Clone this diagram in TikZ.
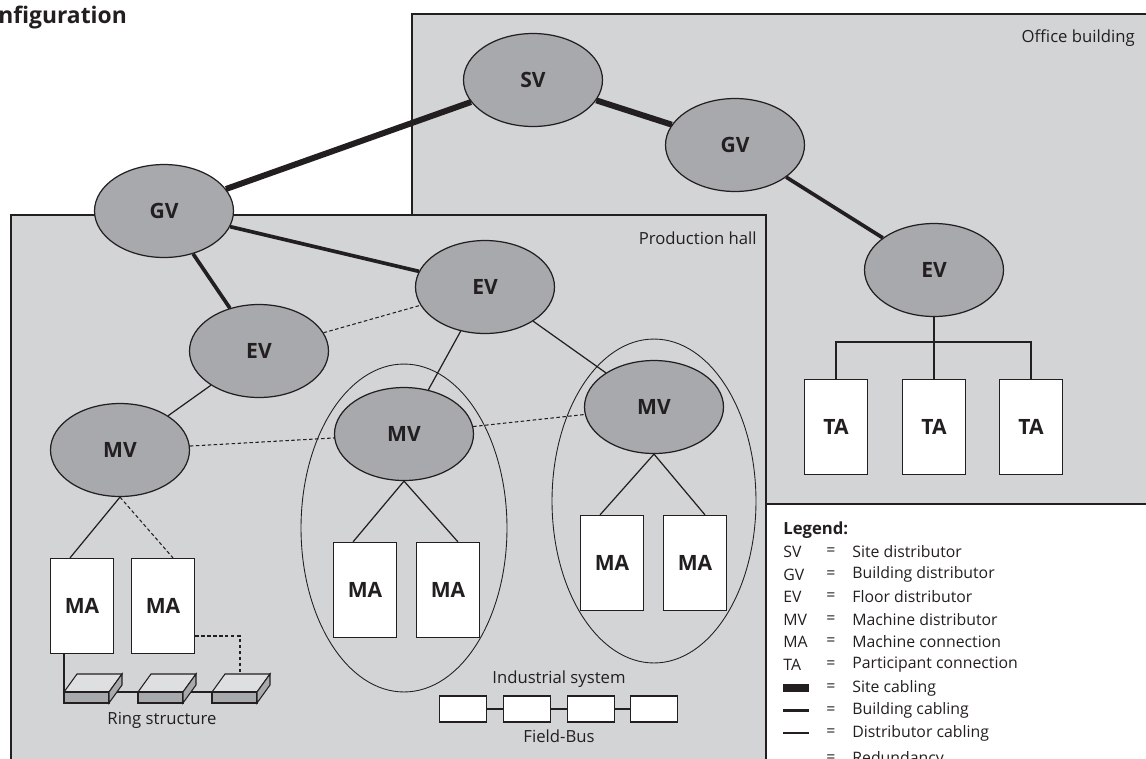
\documentclass[tikz,border=0pt]{standalone}
\usepackage{fontspec}
\setmainfont{Open Sans}
\usepackage{tikz}
\usetikzlibrary{shapes.geometric,calc}
\definecolor{ink}{HTML}{231F20}
\definecolor{hall}{HTML}{D3D4D6}
\definecolor{knot}{HTML}{A8A9AD}
\definecolor{lid}{HTML}{DEDFE0}

\begin{document}
\begin{tikzpicture}[x=0.02cm,y=-0.02cm,
  dist/.style={ellipse,draw=ink,line width=0.7pt,fill=knot,minimum width=2.78cm,minimum height=1.86cm,inner sep=0pt,text=ink,font=\bfseries\fontsize{12}{14}\selectfont},
  conn/.style={rectangle,draw=ink,line width=0.7pt,fill=white,minimum width=1.26cm,minimum height=1.9cm,inner sep=0pt,text=ink,font=\bfseries\fontsize{12}{14}\selectfont},
  group/.style={ellipse,draw=ink,line width=0.5pt,inner sep=0pt},
  bus/.style={rectangle,draw=ink,line width=0.6pt,fill=white,minimum width=0.94cm,minimum height=0.52cm,inner sep=0pt},
  site/.style={line width=3.4pt,ink},
  bldg/.style={line width=2.1pt,ink},
  distc/.style={line width=0.7pt,ink},
  redund/.style={line width=0.6pt,ink,dash pattern=on 2pt off 1.4pt},
  lbl/.style={inner sep=0pt,text=ink,font=\fontsize{9.5}{11}\selectfont},
  leg/.style={inner sep=0pt,anchor=west,text=ink,font=\fontsize{9}{10}\selectfont}]
  \useasboundingbox (0,0) rectangle (1146,758);
  \clip (0,0) rectangle (1146,758);
  \fill[white] (0,0) rectangle (1146,758);
  \node[anchor=west,inner sep=0pt,text=ink,font=\bfseries\fontsize{13}{15}\selectfont] (title) at (-2,18) {nfiguration};
  \filldraw[fill=hall,draw=ink,line width=0.8pt] (412,14) rectangle (1160,504);
  \filldraw[fill=hall,draw=ink,line width=0.8pt] (11,215) rectangle (766,780);
  \node[lbl,anchor=east] (office) at (1135,38) {Office building};
  \node[lbl,anchor=east] (hall) at (757,238) {Production hall};
  \node[group,minimum width=4.12cm,minimum height=6.56cm] (grpm) at (404,528) {};
  \node[group,minimum width=4.08cm,minimum height=6.48cm] (grpr) at (654,501) {};
  \node[dist] (SV) at (533,80) {SV};
  \node[dist] (GVo) at (735,145) {GV};
  \node[dist] (EVo) at (934,270) {EV};
  \node[dist] (GVp) at (164,211) {GV};
  \node[dist] (EVc) at (485,287) {EV};
  \node[dist] (EVl) at (259,351) {EV};
  \node[dist] (MVl) at (120,450) {MV};
  \node[dist] (MVm) at (404,434) {MV};
  \node[dist] (MVr) at (654,407) {MV};
  \node[conn] (MA1) at (82,606) {MA};
  \node[conn] (MA2) at (163,606) {MA};
  \node[conn] (MA3) at (365,590) {MA};
  \node[conn] (MA4) at (448,590) {MA};
  \node[conn] (MA5) at (612,563) {MA};
  \node[conn] (MA6) at (695,563) {MA};
  \node[conn] (TA1) at (836,427) {TA};
  \node[conn] (TA2) at (934,427) {TA};
  \node[conn] (TA3) at (1031,427) {TA};
  \coordinate (tee) at (934,342);
  \draw[site] (SV) -- (GVp);
  \draw[site] (SV) -- (GVo);
  \draw[bldg] (GVo) -- (EVo);
  \draw[bldg] (GVp) -- (EVc);
  \draw[bldg] (GVp) -- (EVl);
  \draw[distc] (EVl) -- (MVl);
  \draw[distc] (EVc) -- (MVm);
  \draw[distc] (EVc) -- (MVr);
  \draw[redund] (EVl) -- (EVc);
  \draw[redund] (MVl) -- (MVm);
  \draw[redund] (MVm) -- (MVr);
  \draw[distc] (MVl.south) -- ($(MA1.north)+(-12,0)$);
  \draw[redund] (MVl.south) -- ($(MA2.north)+(10,0)$);
  \draw[distc] (MVm.south) -- ($(MA3.north)+(-12,0)$);
  \draw[distc] (MVm.south) -- ($(MA4.north)+(10,0)$);
  \draw[distc] (MVr.south) -- ($(MA5.north)+(-12,0)$);
  \draw[distc] (MVr.south) -- ($(MA6.north)+(10,0)$);
  \draw[distc] (EVo.south) -- (tee);
  \draw[distc] (TA1.north) |- (tee) -| (TA3.north);
  \draw[distc] (tee) -- (TA2.north);
  \coordinate (r1) at (64,692);
  \coordinate (r2) at (138,692);
  \coordinate (r3) at (212,692);
  \draw[distc] (MA1.south -| r1) -- (r1);
  \draw[distc] ($(r1)+(45,0)$) -- (r2);
  \draw[distc] ($(r2)+(45,0)$) -- (r3);
  \draw[redund] ($(MA2.east)+(0,30)$) -| ($(r3)+(28,-18)$);
  \foreach \r in {r1,r2,r3} {
    \filldraw[fill=lid,draw=ink,line width=0.6pt] (\r) -- ++(13,-18) -- ++(45,0) -- ++(-13,18) -- cycle;
    \filldraw[fill=knot,draw=ink,line width=0.6pt] (\r) rectangle ++(45,11);
    \filldraw[fill=knot,draw=ink,line width=0.6pt] ($(\r)+(45,0)$) -- ++(13,-18) -- ++(0,11) -- ++(-13,18) -- cycle;
  }
  \node[lbl] (ring) at (162,720) {Ring structure};
  \node[bus] (fb1) at (463,709) {};
  \node[bus] (fb2) at (527,709) {};
  \node[bus] (fb3) at (591,709) {};
  \node[bus] (fb4) at (654,709) {};
  \draw[distc] (fb1) -- (fb2);
  \draw[distc] (fb2) -- (fb3);
  \draw[distc] (fb3) -- (fb4);
  \node[lbl] (indsys) at (559,679) {Industrial system};
  \node[lbl] (fieldbus) at (559,736) {Field-Bus};
  \node[leg,font=\bfseries\fontsize{9.5}{11}\selectfont] (legend) at (783,530) {Legend:};
  \foreach \ab/\tx [count=\i] in {SV/Site distributor,GV/Building distributor,EV/Floor distributor,MV/Machine distributor,MA/Machine connection,TA/Participant connection} {
    \node[leg] (ab\i) at (783,{552+22.5*(\i-1)}) {\ab};
    \node[leg] (eq\i) at (826,{552+22.5*(\i-1)}) {=};
    \node[leg] (tx\i) at (852,{552+22.5*(\i-1)}) {\tx};
  }
  \foreach \tx/\w [count=\i] in {Site cabling/4pt,Building cabling/2.2pt,Distributor cabling/0.7pt} {
    \draw[ink,line width=\w] (783,{688+22.5*(\i-1)}) -- (809,{688+22.5*(\i-1)});
    \node[leg] (eqc\i) at (826,{688+22.5*(\i-1)}) {=};
    \node[leg] (txc\i) at (852,{688+22.5*(\i-1)}) {\tx};
  }
  \node[leg] (eqr) at (826,759) {=};
  \node[leg] (txr) at (852,759) {Redundancy};
\end{tikzpicture}
\end{document}
